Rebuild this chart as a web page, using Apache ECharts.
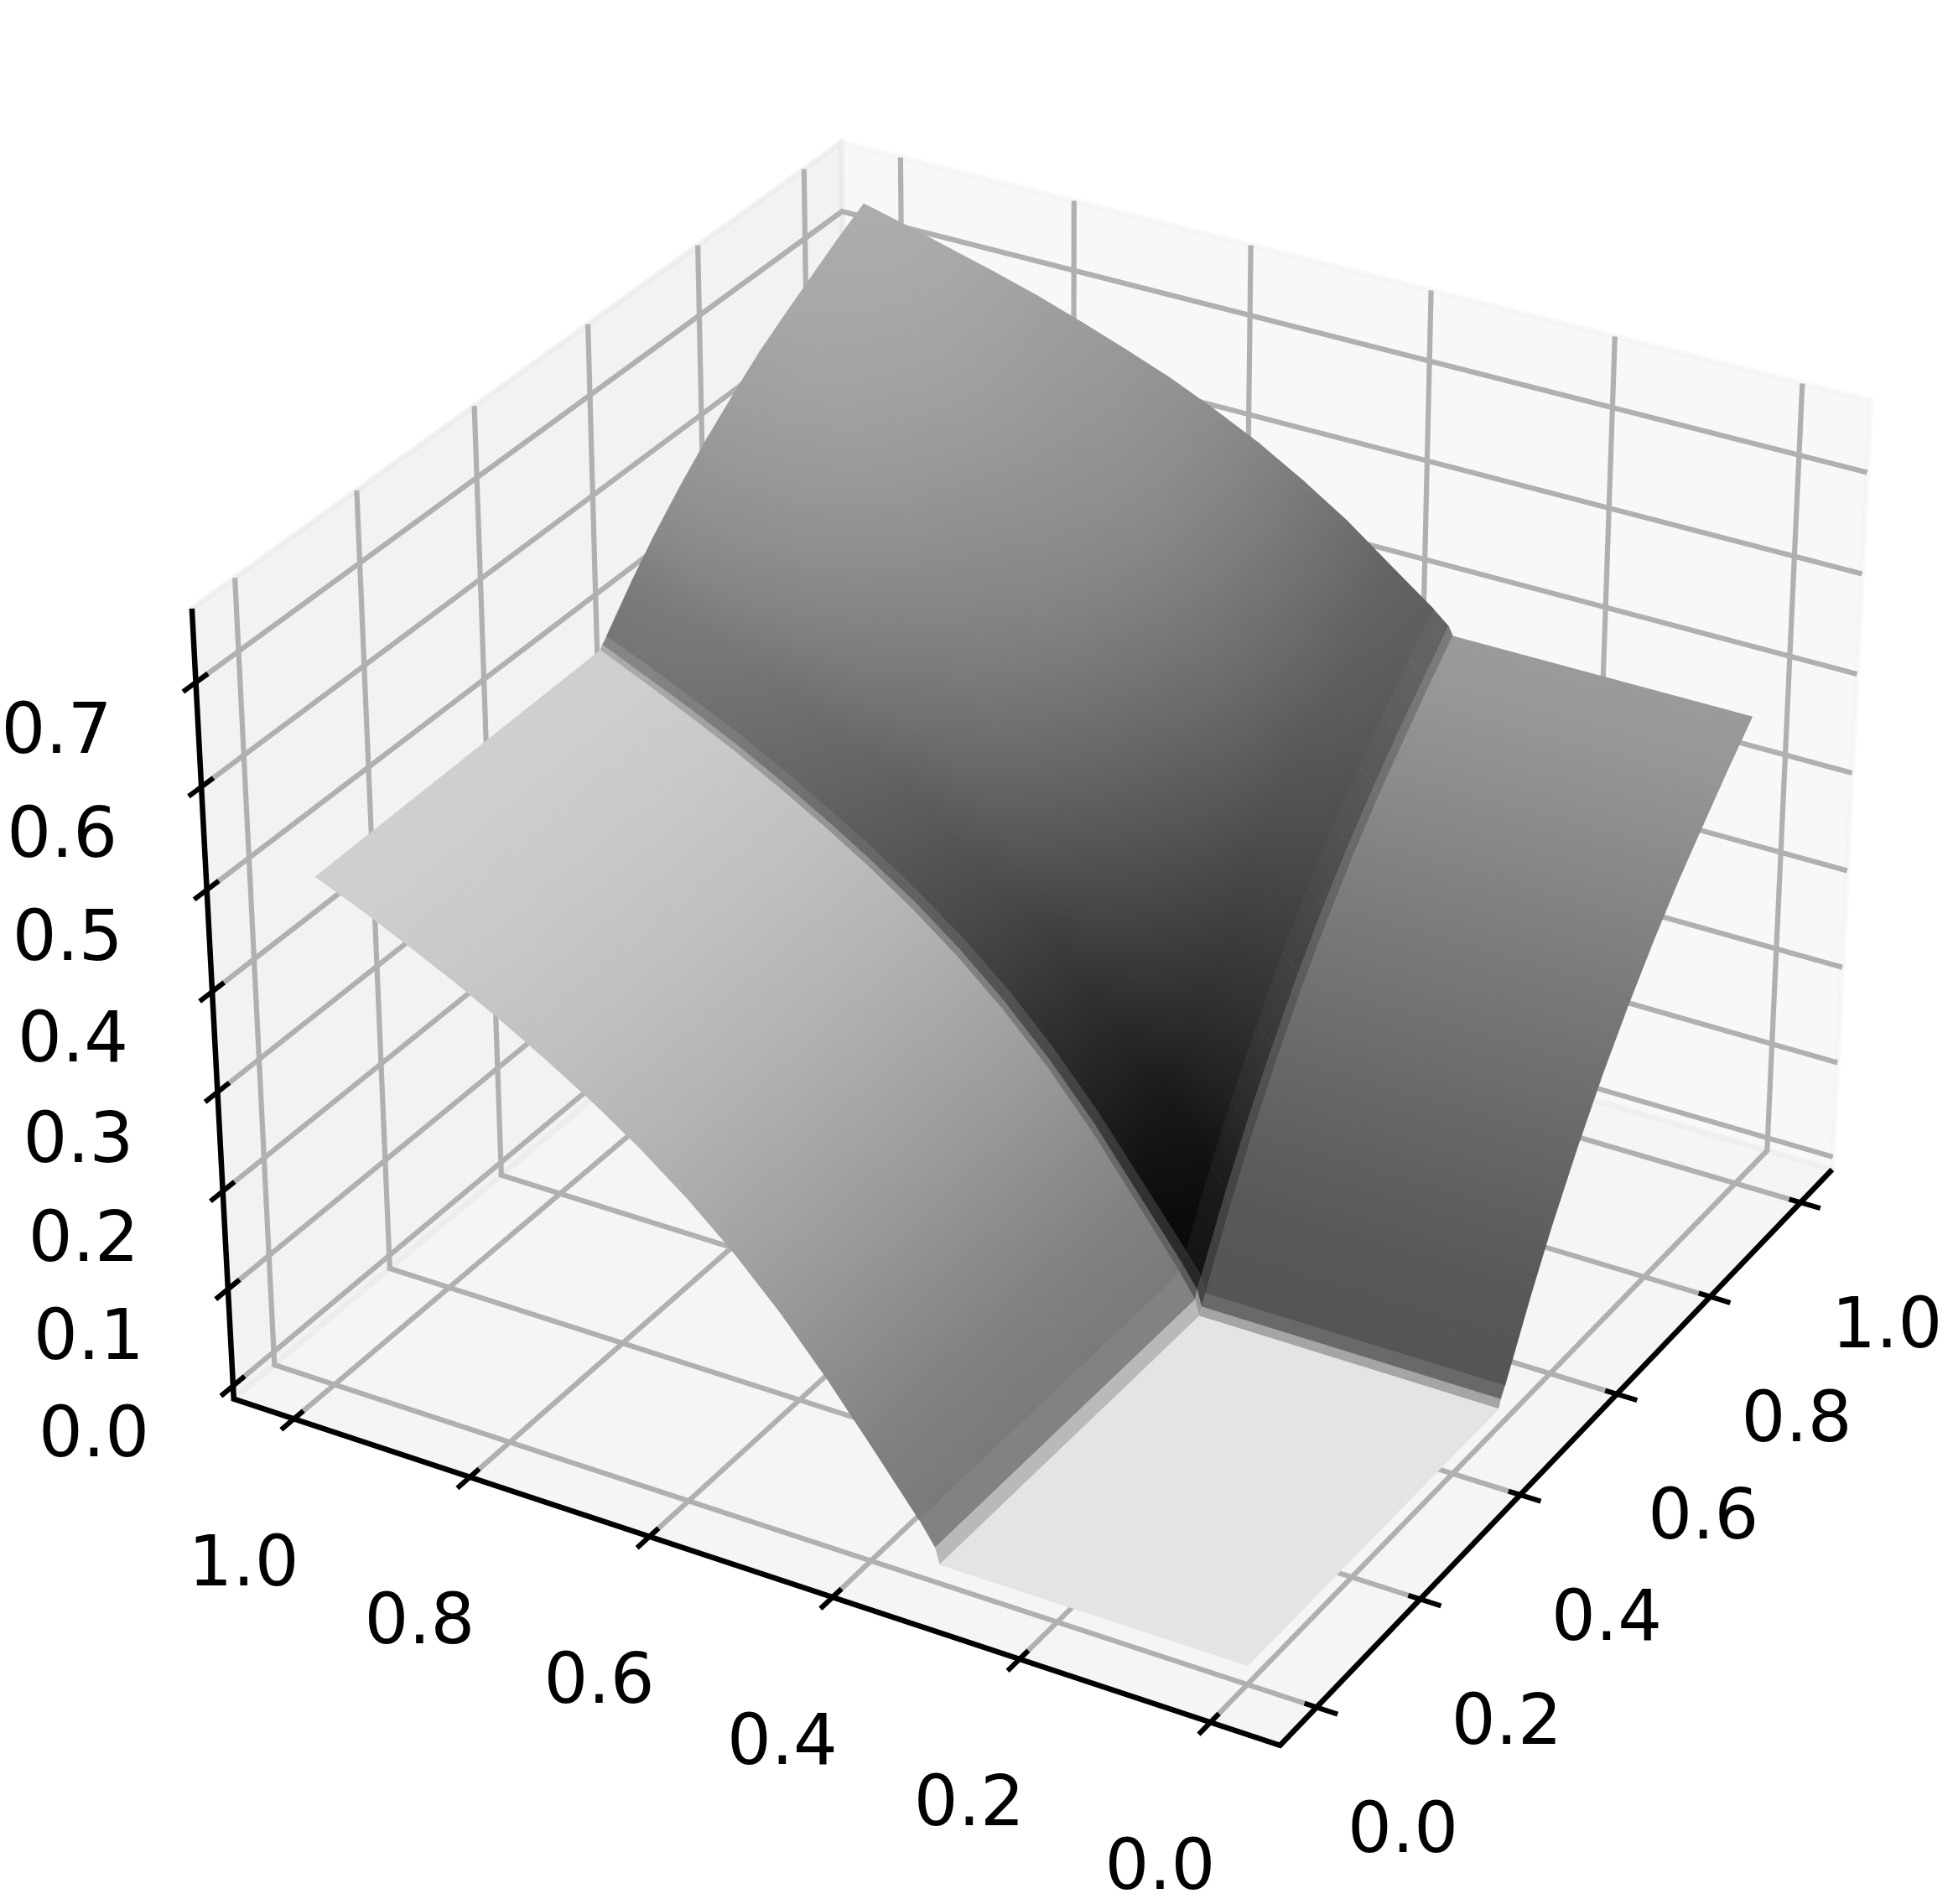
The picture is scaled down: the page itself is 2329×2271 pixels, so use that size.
<!DOCTYPE html>
<html><head><meta charset="utf-8">
<style>html,body{margin:0;padding:0;background:#fff}#chart{width:2329px;height:2271px}</style>
<script src="https://cdn.jsdelivr.net/npm/echarts@6/dist/echarts.min.js"></script>
</head><body><div id="chart"></div>
<script>
// ---- data ----
const xTicks = [0, 0.2, 0.4, 0.6, 0.8, 1.0];
const yTicks = [0, 0.2, 0.4, 0.6, 0.8, 1.0];
const zTicks = [0, 0.1, 0.2, 0.3, 0.4, 0.5, 0.6, 0.7];
const xValues = [0.008, 0.5, 0.504, 0.512, 0.56, 0.6, 0.65, 0.7, 0.75, 0.8, 0.85, 0.9, 0.95, 1];
const yValues = [0.004, 0.33, 0.335, 0.352, 0.4, 0.45, 0.5, 0.55, 0.6, 0.65, 0.7, 0.75, 0.8, 0.85, 0.9, 0.95, 1];
// surface height, one row per xValues entry, one column per yValues entry
const zRows = [
 [0,0,.016,.039,.095,.152,.204,.25,.29,.325,.356,.384,.41,.434,.456,.477,.496],
 [0,0,.016,.039,.097,.157,.21,.256,.296,.331,.362,.39,.416,.44,.462,.483,.503],
 [.008,.008,.024,.047,.104,.164,.216,.262,.302,.337,.367,.395,.421,.445,.467,.487,.507],
 [.018,.018,.034,.056,.113,.172,.224,.27,.309,.343,.374,.401,.427,.451,.472,.493,.512],
 [.085,.085,.1,.121,.174,.229,.278,.321,.357,.39,.418,.444,.468,.49,.51,.529,.548],
 [.136,.136,.15,.17,.221,.273,.319,.359,.394,.425,.452,.476,.499,.52,.539,.557,.575],
 [.193,.193,.206,.225,.272,.322,.365,.403,.435,.464,.489,.512,.534,.553,.571,.589,.605],
 [.245,.245,.257,.275,.32,.366,.407,.442,.473,.5,.524,.545,.565,.584,.601,.617,.632],
 [.291,.291,.303,.319,.361,.405,.443,.477,.506,.531,.554,.574,.593,.61,.626,.642,.656],
 [.333,.333,.344,.36,.4,.441,.477,.509,.536,.56,.582,.601,.619,.635,.65,.665,.679],
 [.371,.371,.381,.396,.434,.473,.508,.538,.564,.586,.607,.625,.642,.657,.672,.685,.698],
 [.405,.405,.415,.429,.465,.502,.535,.563,.588,.61,.629,.646,.663,.677,.691,.704,.716],
 [.438,.438,.447,.461,.495,.53,.561,.589,.612,.633,.651,.667,.683,.697,.71,.722,.734],
 [.469,.469,.478,.491,.523,.557,.586,.612,.634,.654,.671,.687,.702,.715,.727,.739,.75]
];
// shaded lightness of each surface cell (0-255), one row per x interval, one column per y interval
const cellLight = [
 [228,185,130,122,135,147,158,168,176,183,189,194,198,201,204,207],
 [165,150,90,95,105,113,120,127,133,140,145,150,155,160,165,170],
 [105,70,40,42,56,68,78,86,94,100,106,112,118,124,130,134],
 [85,62,20,8,23,38,52,65,76,85,93,100,106,112,116,117],
 [91,72,34,24,39,54,68,81,92,100,107,114,120,125,128,130],
 [99,80,50,40,55,71,84,96,106,114,120,127,131,137,139,141],
 [108,88,62,54,69,84,96,108,117,125,130,136,141,145,148,150],
 [117,95,70,65,80,94,106,117,126,133,138,143,148,152,155,156],
 [125,102,78,74,89,103,114,124,133,139,143,149,154,157,160,161],
 [133,108,85,82,97,109,120,130,138,143,148,153,157,161,164,165],
 [140,113,91,87,101,114,124,134,141,146,151,156,160,164,166,168],
 [147,118,96,91,104,117,126,136,143,148,152,157,161,165,168,170],
 [154,123,100,94,106,118,128,137,144,149,154,158,162,167,170,172]
];
// ---- 3D view ----
const view = {elev:30.05, azim:-149.97, dist:7.6656, scale:10952.46, cx:1251.04, cy:1075.58, zBox:0.7513};
const lim = {x:[-0.0689,1.0715], y:[-0.072,1.0693], z:[-0.0136,0.77]};
const rad = Math.PI/180, ce = Math.cos(view.elev*rad), se = Math.sin(view.elev*rad), ca = Math.cos(view.azim*rad), sa = Math.sin(view.azim*rad);
function planeOfBox(bx, by, bz){
  const X = bx-.5, Y = by-.5, Z = (bz-.5)*view.zBox;
  const w = view.dist - (X*ce*ca + Y*ce*sa + Z*se);
  return [view.cx + view.scale*(-X*sa + Y*ca)/w,
          view.cy - view.scale*(-X*se*ca - Y*se*sa + Z*ce)/w];
}
const bx = v => (v-lim.x[0])/(lim.x[1]-lim.x[0]);
const by = v => (v-lim.y[0])/(lim.y[1]-lim.y[0]);
const bz = v => (v-lim.z[0])/(lim.z[1]-lim.z[0]);
const FONT = '83px "DejaVu Sans"';
const GRID = '#b0b0b0';
const grey = v => { const g = Math.max(0, Math.min(255, Math.round(v))); return 'rgb('+g+','+g+','+g+')'; };
// ---- panes ----
const panes = [
 {c:'rgba(242,242,242,0.5)', p:[[1,0,0],[1,1,0],[1,1,1],[1,0,1]]},
 {c:'rgba(230,230,230,0.5)', p:[[0,1,0],[1,1,0],[1,1,1],[0,1,1]]},
 {c:'rgba(236,236,236,0.5)', p:[[0,0,0],[1,0,0],[1,1,0],[0,1,0]]}
];
function renderPane(params, api){
  const pane = panes[params.dataIndex];
  return {type:'polygon', shape:{points:pane.p.map(b => api.coord(planeOfBox(b[0],b[1],b[2])))},
          style:{fill:pane.c, stroke:pane.c, lineWidth:6.5, lineJoin:'miter'}};
}
// ---- grid lines, axes and ticks ----
const gridLines = [];
xTicks.forEach(v => gridLines.push([[bx(v),0,0],[bx(v),1,0],[bx(v),1,1]]));
yTicks.forEach(v => gridLines.push([[0,by(v),0],[1,by(v),0],[1,by(v),1]]));
zTicks.forEach(v => gridLines.push([[0,1,bz(v)],[1,1,bz(v)],[1,0,bz(v)]]));
function renderGrid(params, api){
  return {type:'polyline', shape:{points:gridLines[params.dataIndex].map(b => api.coord(planeOfBox(b[0],b[1],b[2])))},
          style:{fill:'none', stroke:GRID, lineWidth:6.2, lineJoin:'miter'}};
}
const axisPath = [[1,0,0],[0,0,0],[0,1,0],[0,1,1]];
const tickSegs = [];
xTicks.forEach(v => tickSegs.push([[bx(v),-0.019,0],[bx(v),0.011,0]]));
yTicks.forEach(v => tickSegs.push([[-0.019,by(v),0],[0.014,by(v),0]]));
zTicks.forEach(v => tickSegs.push([[-0.018,1,bz(v)],[0.017,1,bz(v)]]));
function renderAxis(params, api){
  const i = params.dataIndex;
  const pts = (i === 0 ? axisPath : tickSegs[i-1]).map(b => api.coord(planeOfBox(b[0],b[1],b[2])));
  return {type:'polyline', shape:{points:pts},
          style:{fill:'none', stroke:'#000', lineWidth:i === 0 ? 6.5 : 6, lineJoin:'miter'}};
}
// ---- surface ----
const stripClass = k => k === 0 ? 'a' : (k < 3 ? String(k) : 'b');
function vertexLight(vi, vj, ci, cj){
  const ki = stripClass(ci), kj = stripClass(cj);
  let s = 0, n = 0;
  for (const a of [vi-1, vi]) for (const b of [vj-1, vj]) {
    if (a < 0 || b < 0 || a >= cellLight.length || b >= cellLight[0].length) continue;
    if (stripClass(a) === ki && stripClass(b) === kj) { s += cellLight[a][b]; n++; }
  }
  return s/n;
}
function renderCell(params, api){
  const i = api.value(0), j = api.value(1);
  const corners = [[i,j],[i+1,j],[i+1,j+1],[i,j+1]];
  const pts = corners.map(c => api.coord(planeOfBox(bx(xValues[c[0]]), by(yValues[c[1]]), bz(zRows[c[0]][c[1]]))));
  let fill = grey(cellLight[i][j]);
  const strip = (i === 1 || i === 2 || j === 1 || j === 2);
  const L = corners.map(c => vertexLight(c[0], c[1], i, j));
  const mn = Math.min.apply(null, L), mx = Math.max.apply(null, L);
  if (mx - mn > 0.5) {
    const d1 = [pts[2][0]-pts[0][0], pts[2][1]-pts[0][1]], d2 = [pts[1][0]-pts[3][0], pts[1][1]-pts[3][1]];
    const s1 = L[2]-L[0], s2 = L[1]-L[3], det = d1[0]*d2[1]-d1[1]*d2[0];
    if (Math.abs(det) > 1e-6) {
      const gx = (s1*d2[1]-s2*d1[1])/det, gy = (d1[0]*s2-d2[0]*s1)/det, g2 = gx*gx+gy*gy;
      const mx0 = (pts[0][0]+pts[1][0]+pts[2][0]+pts[3][0])/4, my0 = (pts[0][1]+pts[1][1]+pts[2][1]+pts[3][1])/4, m = (L[0]+L[1]+L[2]+L[3])/4;
      if (g2 > 0) fill = new echarts.graphic.LinearGradient(
        mx0+gx*(mn-m)/g2, my0+gy*(mn-m)/g2, mx0+gx*(mx-m)/g2, my0+gy*(mx-m)/g2,
        [{offset:0,color:grey(mn)},{offset:1,color:grey(mx)}], true);
    }
  }
  return {type:'polygon', shape:{points:pts}, style:{fill:fill, stroke:fill, lineWidth:strip ? 0.6 : 1.2, lineJoin:'round'}};
}
const cells = [];
for (let i = xValues.length-2; i >= 0; i--) for (let j = yValues.length-2; j >= 0; j--) cells.push([i,j]);
// ---- tick labels ----
const labels = [];
xTicks.forEach(v => labels.push({t:v.toFixed(1), b:[bx(v),0,0], off:[103,151]}));
yTicks.forEach(v => labels.push({t:v.toFixed(1), b:[0,by(v),0], off:[-60,177]}));
zTicks.forEach(v => labels.push({t:v.toFixed(1), b:[0,1,bz(v)], off:[-166,62]}));
function renderLabel(params, api){
  const l = labels[params.dataIndex];
  const q = planeOfBox(l.b[0], l.b[1], l.b[2]);
  const p = api.coord([q[0]+l.off[0], q[1]+l.off[1]]);
  return {type:'text', style:{x:p[0], y:p[1], text:l.t, fill:'#000', font:FONT, align:'center', verticalAlign:'middle'}};
}
const custom = (z, data, fn) => ({type:'custom', coordinateSystem:'cartesian2d', z:z, silent:true, clip:false, animation:false, data:data, renderItem:fn});
const idx = arr => arr.map((_, k) => [k, k]);
const chart = echarts.init(document.getElementById('chart'), null, {renderer:'canvas'});
chart.setOption({
  animation:false, backgroundColor:'#ffffff',
  grid:{left:0, right:0, top:0, bottom:0},
  xAxis:{type:'value', min:0, max:2329, show:false},
  yAxis:{type:'value', min:0, max:2271, inverse:true, show:false},
  series:[
    custom(1, idx(panes), renderPane),
    custom(2, idx(gridLines), renderGrid),
    custom(3, idx([0].concat(tickSegs)), renderAxis),
    custom(4, cells, renderCell),
    custom(5, idx(labels), renderLabel)
  ]
});
</script></body></html>
